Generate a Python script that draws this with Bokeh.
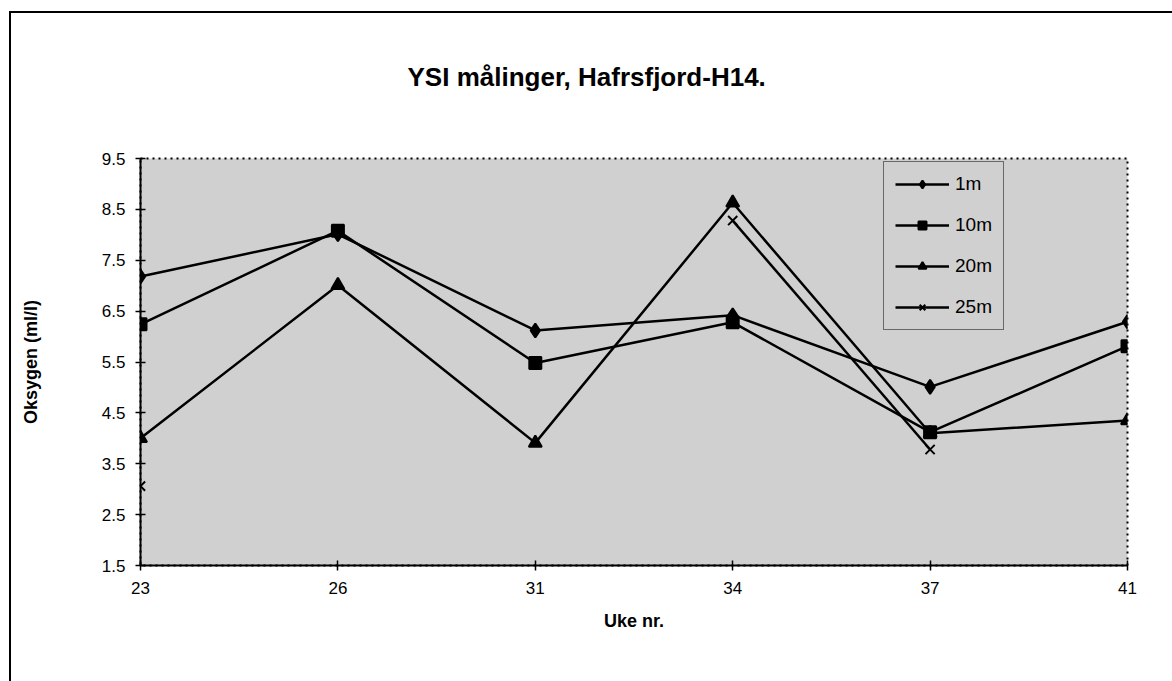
import numpy as np
from bokeh.plotting import figure
from bokeh.layouts import column
from bokeh.models import Range1d, FixedTicker, Title, Legend, LegendItem
from bokeh.embed import file_html
from bokeh.resources import INLINE

weeks = ["23", "26", "31", "34", "37", "41"]
o2_1m = [7.18, 8.01, 6.12, 6.42, 5.01, 6.29]
o2_10m = [6.24, 8.08, 5.48, 6.28, 4.12, 5.81]
o2_20m = [4.00, 7.01, 3.91, 8.63, 4.10, 4.35]
o2_25m = [3.06, np.nan, np.nan, 8.28, 3.78, np.nan]
series_names = ["1m", "10m", "20m", "25m"]
y_ticks = [1.5, 2.5, 3.5, 4.5, 5.5, 6.5, 7.5, 8.5, 9.5]

FONT = "Liberation Sans"
xs = list(range(len(weeks)))

p = figure(width=1161, height=668, x_range=Range1d(0, len(weeks) - 1),
           y_range=Range1d(y_ticks[0], y_ticks[-1]),
           output_backend="svg", toolbar_location=None,
           min_border_left=129, min_border_top=145,
           min_border_right=45, min_border_bottom=116)

p.background_fill_color = "#d0d0d0"
p.border_fill_color = "white"
p.outline_line_color = "black"
p.outline_line_dash = "dotted"
p.outline_line_width = 2
p.grid.visible = False

# spacer between frame and title (closest to the frame), then the title
p.add_layout(Title(text=" ", standoff=0, text_font=FONT,
                   text_font_size="40px"), "above")
p.add_layout(Title(text="YSI målinger, Hafrsfjord-H14.", align="left",
                   offset=267, standoff=42, text_font=FONT,
                   text_font_size="26px", text_font_style="bold",
                   text_color="black"), "above")

# axes
p.xaxis.ticker = FixedTicker(ticks=xs)
p.xaxis.major_label_overrides = {i: w for i, w in zip(xs, weeks)}
p.yaxis.ticker = FixedTicker(ticks=y_ticks)
p.yaxis.major_label_overrides = {t: f"{t:.1f}" for t in y_ticks}
for ax in (p.xaxis, p.yaxis):
    ax.axis_line_color = "black"
    ax.axis_line_width = 2
    ax.major_tick_line_color = "black"
    ax.major_tick_line_width = 1.5
    ax.major_tick_in = 5
    ax.major_tick_out = 5
    ax.minor_tick_line_color = None
    ax.major_label_text_font = FONT
    ax.major_label_text_font_size = "17px"
    ax.major_label_text_color = "black"
    ax.axis_label_text_font = FONT
    ax.axis_label_text_font_size = "18px"
    ax.axis_label_text_font_style = "bold"
    ax.axis_label_text_color = "black"
p.xaxis.axis_label = "Uke nr."
p.yaxis.axis_label = "Oksygen (ml/l)"
p.xaxis.major_label_standoff = 11
p.xaxis.axis_label_standoff = 14
p.yaxis.major_label_standoff = 10
p.yaxis.axis_label_standoff = 58

items = []
data = [o2_1m, o2_10m, o2_20m, o2_25m]
markers = ["diamond", "square", "triangle", "x"]
sizes = [14, 12, 13, 13]
for name, ys, mk, sz in zip(series_names, data, markers, sizes):
    ln = p.line(xs, ys, line_color="black", line_width=2.5)
    sc = p.scatter(xs, ys, marker=mk, size=sz, fill_color="black",
                   line_color="black", line_width=2)
    items.append(LegendItem(label=name, renderers=[ln, sc]))

legend = Legend(items=items, location=(743, 235))
legend.background_fill_alpha = 0
legend.border_line_color = "black"
legend.border_line_width = 1.5
legend.label_text_font = FONT
legend.label_text_font_size = "19px"
legend.label_text_color = "black"
legend.glyph_width = 54
legend.glyph_height = 20
legend.label_height = 20
legend.spacing = 19
legend.padding = 11
legend.margin = 0
legend.label_standoff = 6
p.add_layout(legend, "center")

layout = column(p, styles={"margin-left": "9px", "margin-top": "11px",
                           "border-left": "2px solid #000",
                           "border-top": "2px solid #000"})

open("out.html", "w").write(file_html(layout, INLINE))
